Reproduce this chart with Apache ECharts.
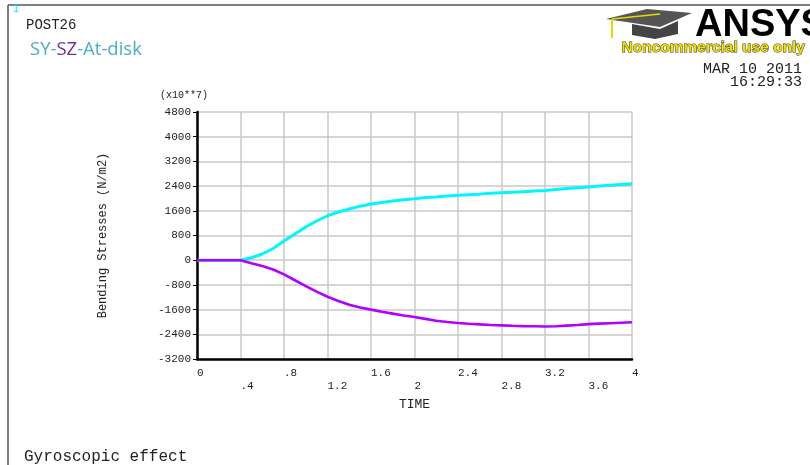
<!DOCTYPE html>
<html><head><meta charset="utf-8">
<script src="https://cdn.jsdelivr.net/npm/echarts@6/dist/echarts.min.js"></script>
<style>html,body{margin:0;padding:0;background:#fff}#c{width:810px;height:465px}</style>
</head><body><div id="c"></div>
<script>
const times = [0,0.1,0.2,0.3,0.4,0.5,0.6,0.7,0.8,0.9,1.0,1.1,1.2,1.3,1.4,1.5,1.6,1.7,1.8,1.9,2.0,2.1,2.2,2.3,2.4,2.5,2.6,2.7,2.8,2.9,3.0,3.1,3.2,3.3,3.4,3.5,3.6,3.7,3.8,3.9,4.0];
const sy = [0,0,0,0,0,80,200,380,620,850,1075,1270,1440,1560,1660,1750,1820,1870,1920,1960,1990,2030,2050,2080,2100,2120,2140,2165,2185,2200,2220,2240,2260,2290,2320,2345,2370,2400,2425,2455,2480];
const sz = [0,0,0,0,0,-100,-190,-300,-460,-650,-840,-1020,-1185,-1320,-1440,-1530,-1600,-1670,-1730,-1790,-1840,-1900,-1960,-2000,-2035,-2060,-2080,-2100,-2110,-2125,-2135,-2140,-2145,-2140,-2120,-2100,-2070,-2055,-2040,-2025,-2010];
const yName = 'Bending Stresses (N/m2)';
const xName = 'TIME';

const mono = '"Liberation Mono", "DejaVu Sans Mono", monospace';
const chart = echarts.init(document.getElementById('c'));
function fmtX(v){ let s = String(+(+v).toFixed(1)); if (s.startsWith('0.')) s = s.slice(1); return s; }
chart.setOption({
  animation:false,
  backgroundColor:'#fff',
  grid:{left:197, top:112, width:435, height:247},
  xAxis:{
    type:'value', min:0, max:4, interval:0.4,
    name:xName, nameLocation:'middle', nameGap:33,
    nameTextStyle:{fontFamily:mono, fontSize:13, color:'#222'},
    axisLine:{onZero:false, lineStyle:{color:'#000', width:2.5}},
    axisTick:{show:false},
    splitLine:{show:true, lineStyle:{color:'#c8c8c8', width:1.5}},
    axisLabel:{fontFamily:mono, fontSize:11, color:'#222', align:'left', margin:8, lineHeight:13,
      formatter:(v,i)=> (Math.round(v/0.4)%2===1 ? '\n' : '') + fmtX(v)}
  },
  yAxis:{
    type:'value', min:-3200, max:4800, interval:800,
    name:yName, nameLocation:'middle', nameGap:88, nameRotate:90,
    nameTextStyle:{fontFamily:mono, fontSize:12, color:'#222'},
    axisLine:{onZero:false, lineStyle:{color:'#000', width:2.5}},
    axisTick:{show:true, length:4, lineStyle:{color:'#000'}},
    splitLine:{show:true, lineStyle:{color:'#c8c8c8', width:1.5}},
    axisLabel:{fontFamily:mono, fontSize:11, color:'#222', margin:6, formatter:(v)=>String(v)}
  },
  series:[
    {name:'SY', type:'line', showSymbol:false, data:times.map((t,i)=>[t,sy[i]]), lineStyle:{color:'#00F5FF', width:3}, itemStyle:{color:'#00F5FF'}, z:3},
    {name:'SZ', type:'line', showSymbol:false, data:times.map((t,i)=>[t,sz[i]]), lineStyle:{color:'#B000FF', width:2.6}, itemStyle:{color:'#B000FF'}, z:4}
  ],
  graphic:[
    {type:'line', shape:{x1:8,y1:5,x2:810,y2:5}, style:{stroke:'#555', lineWidth:1.5}},
    {type:'line', shape:{x1:8,y1:5,x2:8,y2:465}, style:{stroke:'#555', lineWidth:1.5}},
    {type:'text', left:13, top:3, style:{text:'1', fill:'#00E5FF', font:'11px "Liberation Sans"'}},
    {type:'text', left:26, top:18, style:{text:'POST26', fill:'#222', font:'14px '+mono}},
    {type:'text', left:30, top:40, style:{rich:{a:{fill:'#4BACC6', fontSize:18.5, fontFamily:'"Open Sans"'}, b:{fill:'#7030A0', fontSize:18.5, fontFamily:'"Open Sans"'}}, text:'{a|SY-}{b|SZ}{a|-At-disk}'}},
    {type:'text', right:8, top:62, style:{text:'MAR 10 2011', fill:'#222', font:'15px '+mono, align:'right'}},
    {type:'text', right:8, top:75, style:{text:'16:29:33', fill:'#222', font:'15px '+mono, align:'right'}},
    {type:'text', left:160, top:90, style:{text:'(x10**7)', fill:'#222', font:'10px '+mono}},
    {type:'text', left:24, top:449, style:{text:'Gyroscopic effect', fill:'#222', font:'16px '+mono}},
    // logo
    {type:'polygon', shape:{points:[[606,19],[647,9],[692,13],[660,27]]}, style:{fill:'#555'}},
    {type:'polygon', shape:{points:[[632,24],[660,29],[678,21],[678,34],[655,39],[632,35]]}, style:{fill:'#444'}},
    {type:'line', shape:{x1:612,y1:19,x2:660,y2:14}, style:{stroke:'#E8D800', lineWidth:1.5}},
    {type:'line', shape:{x1:612,y1:19,x2:612,y2:38}, style:{stroke:'#E8D800', lineWidth:2}},
    {type:'text', left:695, top:7, style:{text:'ANSYS', fill:'#000', font:'bold 38px "Liberation Sans"'}},
    {type:'text', left:621, top:39, style:{text:'Noncommercial use only', fill:'#F2E000', stroke:'#333', lineWidth:1, font:'bold 15.5px "Liberation Sans"'}}
  ]
});
</script></body></html>
